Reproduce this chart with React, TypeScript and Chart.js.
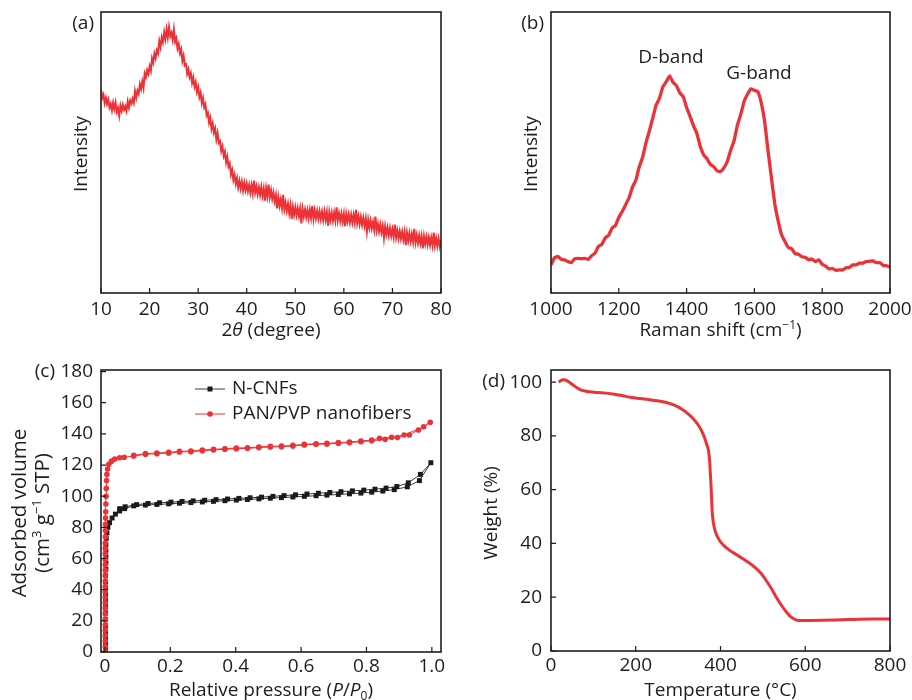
import React, { useEffect, useRef } from "react";
import { Chart, registerables } from "chart.js";
Chart.register(...registerables);

const FONT = "'Open Sans', 'Noto Sans', 'DejaVu Sans', sans-serif";
const INK = "#1d1d1d";
const RED = "#ec3237";
const BLACK = "#1a1a1a";
const FS = 19;

// ---------- (a) XRD ----------
const XRD_START = 10;
const XRD_STEP = 0.25;
const XRD_INTENSITY = [
  72.4, 69.4, 70.6, 67.6, 69.5, 67.3, 68.8, 66.0, 67.3, 65.0, 67.7, 65.5,
  67.8, 64.5, 65.8, 63.1, 66.7, 64.9, 67.0, 65.2, 66.4, 64.8, 68.1, 66.0,
  68.5, 67.4, 69.1, 67.6, 71.8, 69.5, 72.0, 70.9, 74.3, 72.6, 75.3, 73.0,
  78.1, 76.8, 79.3, 78.0, 80.6, 79.0, 83.5, 82.0, 85.2, 83.6, 86.4, 85.3,
  89.6, 87.5, 91.0, 89.3, 92.8, 90.4, 93.9, 91.0, 94.6, 91.4, 92.6, 90.2,
  93.8, 89.4, 90.6, 87.0, 88.6, 85.4, 86.8, 82.6, 84.5, 81.0, 81.4, 78.0,
  79.6, 76.8, 78.2, 74.8, 76.7, 73.4, 75.0, 71.6, 73.2, 69.7, 71.3, 67.6,
  69.4, 66.1, 67.2, 63.2, 64.1, 60.6, 62.3, 58.4, 60.4, 57.1, 58.6, 54.7,
  56.9, 53.4, 54.0, 50.6, 52.2, 48.8, 50.3, 46.5, 48.5, 45.0, 46.1, 42.2,
  43.8, 40.2, 42.0, 38.9, 40.9, 37.6, 39.9, 37.2, 39.6, 36.5, 39.2, 36.6,
  38.9, 36.2, 38.5, 35.7, 38.4, 35.5, 40.0, 35.8, 37.9, 35.1, 37.6, 34.9,
  37.8, 34.6, 37.2, 32.9, 37.3, 34.4, 38.6, 34.1, 36.6, 33.5, 35.8, 32.7,
  34.9, 30.1, 34.1, 31.0, 33.3, 30.2, 34.9, 29.8, 32.1, 29.2, 31.7, 28.4,
  31.2, 26.4, 30.6, 27.8, 30.5, 27.7, 30.2, 27.4, 30.0, 24.8, 29.9, 27.2,
  29.7, 27.0, 29.5, 26.6, 29.6, 26.8, 31.0, 26.3, 29.4, 26.6, 29.2, 26.5,
  29.1, 26.3, 28.9, 26.0, 29.0, 26.1, 28.8, 24.0, 28.7, 26.0, 28.6, 25.7,
  28.6, 25.8, 30.5, 25.9, 28.4, 25.6, 28.3, 25.4, 28.2, 23.8, 28.1, 25.5,
  28.0, 25.2, 27.9, 25.1, 27.8, 25.0, 29.6, 24.9, 27.3, 24.5, 27.1, 24.3,
  26.8, 23.9, 26.5, 22.0, 26.1, 23.2, 25.8, 23.0, 25.3, 22.5, 27.2, 22.3,
  24.6, 21.8, 24.4, 21.6, 23.9, 19.6, 23.7, 20.9, 23.3, 20.5, 23.1, 20.3,
  22.7, 19.9, 24.3, 19.8, 22.2, 19.4, 22.0, 19.3, 21.8, 19.0, 21.7, 17.0,
  21.4, 18.6, 21.3, 18.4, 21.0, 18.2, 22.8, 18.0, 20.6, 17.8, 20.5, 17.7,
  20.3, 15.9, 20.2, 17.5, 20.0, 17.2, 19.9, 17.1, 19.7, 17.0, 21.5, 16.9,
  19.5, 16.7, 19.4, 16.6, 18.8,
];
const XRD_X_TICKS = [10, 20, 30, 40, 50, 60, 70, 80];

// ---------- (b) Raman ----------
const RAMAN_START = 1000;
const RAMAN_STEP = 10;
const RAMAN_INTENSITY = [
  10, 12.5, 13, 12, 11.8, 11.2, 10.8, 12.2, 12.3, 12.2,
  12.3, 12.0, 13.3, 14.2, 16.6, 17.3, 19.6, 20.5, 23.1, 24.0,
  26.9, 29.0, 31.4, 33.8, 37.6, 40.0, 44.8, 48.2, 53.4, 57.6,
  62.2, 66.9, 69.3, 73.4, 75.2, 77.3, 75.0, 73.8, 71.2, 69.9,
  66.0, 62.9, 59.6, 56.9, 52.3, 49.2, 47.8, 45.8, 45.0, 43.4,
  43.2, 44.5, 46.8, 50.8, 54.2, 59.8, 63.7, 68.3, 70.8, 72.7,
  72.1, 71.7, 67.8, 61.2, 50.8, 41.2, 31.8, 25.7, 20.8, 18.3,
  16.2, 15.8, 14.0, 13.8, 12.9, 12.7, 11.8, 12.1, 11.2, 11.8,
  10.2, 9.6, 8.6, 8.7, 8.1, 8.2, 8.2, 9.0, 9.1, 10.0,
  10.0, 10.6, 10.6, 11.2, 11.3, 11.4, 10.8, 10.8, 9.8, 9.7,
  9.2,
];
const RAMAN_X_TICKS = [1000, 1200, 1400, 1600, 1800, 2000];

// ---------- (c) N2 isotherms ----------
const NCNF_P = [
  0.002, 0.002, 0.002, 0.002, 0.002, 0.002, 0.002, 0.002, 0.002, 0.002, 0.002, 0.002, 0.002, 0.002,
  0.003, 0.003, 0.003, 0.003, 0.003, 0.004, 0.006, 0.009, 0.014, 0.022, 0.032, 0.045, 0.06,
  0.088, 0.124, 0.159, 0.195, 0.228, 0.263, 0.298, 0.332, 0.367, 0.402, 0.436, 0.471, 0.506, 0.54,
  0.575, 0.61, 0.646, 0.679, 0.714, 0.748, 0.783, 0.816, 0.85, 0.885, 0.925, 0.962, 0.997,
  0.965, 0.928, 0.893, 0.86, 0.826, 0.792, 0.757, 0.722, 0.688, 0.653, 0.618, 0.583, 0.548, 0.514,
  0.479, 0.444, 0.41, 0.375, 0.34, 0.305, 0.27, 0.236, 0.202, 0.167, 0.132, 0.097, 0.062, 0.045,
];
const NCNF_V = [
  0.5, 3, 6, 9, 13, 17, 21, 25, 29, 33, 37, 41, 45, 49,
  53, 57, 61, 65, 69, 73, 76.5, 80, 83, 86, 88.5, 90.5, 92,
  93.8, 94.3, 94.7, 95.1, 95.5, 95.9, 96.3, 96.7, 97.1, 97.5, 97.9, 98.3, 98.7, 99.1,
  99.5, 99.9, 100.3, 100.7, 101.1, 101.5, 102, 102.6, 103.3, 104.2, 106, 110, 121.5,
  114, 108.6, 106.2, 105.2, 104.5, 103.9, 103.4, 102.9, 102.4, 101.9, 101.4, 100.9, 100.4, 99.9,
  99.4, 99, 98.6, 98.2, 97.8, 97.4, 97, 96.6, 96.2, 95.8, 95.3, 94.6, 93.2, 92,
];
const PAN_P = [
  0.001, 0.001, 0.001, 0.001, 0.001, 0.001, 0.001, 0.001, 0.001, 0.001, 0.001, 0.001, 0.001, 0.001, 0.001, 0.001, 0.001,
  0.0012, 0.0012, 0.0012, 0.0012, 0.0015, 0.0015, 0.0018, 0.002, 0.0025, 0.003, 0.0035, 0.004, 0.005, 0.006, 0.008,
  0.012, 0.02, 0.03, 0.045, 0.059,
  0.088, 0.124, 0.159, 0.195, 0.228, 0.263, 0.298, 0.332, 0.367, 0.402, 0.436, 0.471, 0.506, 0.54,
  0.575, 0.61, 0.646, 0.679, 0.714, 0.748, 0.783, 0.816, 0.857, 0.895, 0.931, 0.959, 0.995,
  0.975, 0.915, 0.877, 0.84, 0.816, 0.783, 0.748, 0.714, 0.679, 0.646, 0.61, 0.575, 0.54, 0.506,
  0.471, 0.436, 0.402, 0.367, 0.332, 0.298, 0.263, 0.228, 0.195, 0.159, 0.124, 0.088,
];
const PAN_V = [
  0.5, 3.5, 7, 10.5, 14, 17.5, 21, 24.5, 28, 31.5, 35, 38.5, 42, 45.5, 49, 52.5, 56,
  59.5, 63, 66.5, 70, 74, 78, 82, 86, 90, 95, 100, 105, 110, 114, 117.5,
  120.5, 122.5, 123.8, 124.6, 125,
  125.8, 126.9, 127.3, 127.7, 128.4, 128.6, 129.2, 129.7, 130.1, 130.5, 130.7, 131.2, 131.6, 131.8,
  132.2, 132.9, 133.3, 133.5, 134, 134.4, 135, 135.6, 136.5, 137.6, 139.3, 142.5, 147.5,
  144.5, 139.3, 137.8, 137.2, 136.0, 135.4, 134.8, 134.4, 133.9, 133.7, 133.3, 132.6, 132.2, 132,
  131.6, 131.1, 130.9, 130.5, 130.1, 129.6, 129, 128.8, 128.1, 127.7, 127.3, 126.2,
];
const BET_X_TICKS = [0, 0.2, 0.4, 0.6, 0.8, 1.0];
const BET_X_LABELS = ["0", "0.2", "0.4", "0.6", "0.8", "1.0"];
const BET_Y_TICKS = [0, 20, 40, 60, 80, 100, 120, 140, 160, 180];
const BET_SERIES = ["N-CNFs", "PAN/PVP nanofibers"];

// ---------- (d) TGA ----------
const TGA_T = [
  18, 22, 28, 34, 40, 47, 55, 62, 70, 80,
  90, 110, 130, 150, 170, 190, 210, 230, 250, 270,
  290, 310, 325, 335, 345, 355, 362, 367, 371, 374,
  376, 377.5, 379, 380.5, 383, 386, 390, 397, 408, 421,
  436, 452, 468, 484, 496, 507, 519, 531, 543, 555,
  566, 578, 590, 602, 640, 700, 760, 800,
];
const TGA_W = [
  100, 100.4, 100.9, 100.8, 100.3, 99.5, 98.6, 97.8, 97.1, 96.7,
  96.4, 96.1, 95.9, 95.5, 94.9, 94.3, 93.9, 93.5, 93.1, 92.5,
  91.5, 89.8, 88.0, 86.5, 84.6, 82.0, 79.5, 77.0, 75.0, 71.5,
  66.0, 62.0, 56.5, 51.5, 48.0, 45.5, 43.5, 41.3, 39.2, 37.5,
  36.0, 34.4, 32.7, 30.7, 28.8, 26.4, 23.5, 20.2, 17.2, 14.6,
  12.7, 11.6, 11.3, 11.3, 11.4, 11.7, 11.9, 11.9,
];
const TGA_X_TICKS = [0, 200, 400, 600, 800];
const TGA_Y_TICKS = [0, 20, 40, 60, 80, 100];

// ---------- helpers ----------
type Part = { t: string; it?: boolean; sup?: boolean; sub?: boolean };

function partFont(p: Part, size: number) {
  const s = p.sup || p.sub ? Math.round(size * 0.65) : size;
  return `${p.it ? "italic " : ""}${s}px ${FONT}`;
}

function drawRich(ctx: CanvasRenderingContext2D, parts: Part[], x: number, y: number, size: number, rotate = false) {
  ctx.save();
  ctx.translate(x, y);
  if (rotate) ctx.rotate(-Math.PI / 2);
  ctx.textBaseline = "middle";
  ctx.textAlign = "left";
  ctx.fillStyle = INK;
  let total = 0;
  for (const p of parts) {
    ctx.font = partFont(p, size);
    total += ctx.measureText(p.t).width;
  }
  let cx = -total / 2;
  for (const p of parts) {
    ctx.font = partFont(p, size);
    const dy = p.sup ? -size * 0.3 : p.sub ? size * 0.3 : 0;
    ctx.fillText(p.t, cx, dy);
    cx += ctx.measureText(p.t).width;
  }
  ctx.restore();
}

function drawText(ctx: CanvasRenderingContext2D, t: string, x: number, y: number, align: CanvasTextAlign, size = FS) {
  ctx.save();
  ctx.font = `${size}px ${FONT}`;
  ctx.fillStyle = INK;
  ctx.textAlign = align;
  ctx.textBaseline = "middle";
  ctx.fillText(t, x, y);
  ctx.restore();
}

function framePlugin(xTicks: number[], yTicks: number[] | null, extra: (ctx: CanvasRenderingContext2D, chart: any) => void) {
  return {
    id: "frame",
    afterDraw(chart: any) {
      const { ctx, chartArea: a } = chart;
      const xs = chart.scales.x;
      const ys = chart.scales.y;
      ctx.save();
      ctx.strokeStyle = INK;
      ctx.lineWidth = 1.2;
      ctx.beginPath();
      for (const v of xTicks) {
        const px = xs.getPixelForValue(v);
        ctx.moveTo(px, a.bottom);
        ctx.lineTo(px, a.bottom - 5);
      }
      if (yTicks) {
        for (const v of yTicks) {
          const py = ys.getPixelForValue(v);
          ctx.moveTo(a.left, py);
          ctx.lineTo(a.left + 5, py);
        }
      }
      ctx.stroke();
      ctx.lineWidth = 1.6;
      ctx.strokeRect(a.left, a.top, a.right - a.left, a.bottom - a.top);
      ctx.restore();
      extra(ctx, chart);
    },
  };
}

interface AxisSpec {
  min: number;
  max: number;
  ticks?: number[];
  labels?: string[];
  pad?: number;
  size: number;
}

function buildConfig(datasets: any[], xs: AxisSpec, ys: AxisSpec, padding: any, plugin: any): any {
  const tickFont = { family: FONT, size: FS };
  return {
    type: "line",
    data: { datasets },
    options: {
      animation: false,
      responsive: false,
      maintainAspectRatio: false,
      devicePixelRatio: 1,
      events: [],
      layout: { padding },
      plugins: { legend: { display: false }, tooltip: { enabled: false }, title: { display: false } },
      scales: {
        x: {
          type: "linear",
          min: xs.min,
          max: xs.max,
          grid: { display: false, drawTicks: false },
          border: { display: false },
          ticks: {
            font: tickFont,
            color: INK,
            padding: xs.pad ?? 0,
            autoSkip: false,
            maxRotation: 0,
            minRotation: 0,
            callback: (v: any, i: number) => (xs.labels ? xs.labels[i] : String(v)),
          },
          afterBuildTicks: (s: any) => {
            s.ticks = (xs.ticks || []).map((v) => ({ value: v }));
          },
          afterFit: (s: any) => {
            s.height = xs.size;
            s.paddingLeft = 0;
            s.paddingRight = 0;
          },
        },
        y: {
          type: "linear",
          min: ys.min,
          max: ys.max,
          grid: { display: false, drawTicks: false },
          border: { display: false },
          ticks: {
            display: !!ys.ticks,
            font: tickFont,
            color: INK,
            padding: ys.pad ?? 0,
            autoSkip: false,
            callback: (v: any) => String(v),
          },
          afterBuildTicks: (s: any) => {
            if (ys.ticks) s.ticks = ys.ticks.map((v) => ({ value: v }));
          },
          afterFit: (s: any) => {
            s.width = ys.size;
            s.paddingTop = 0;
            s.paddingBottom = 0;
          },
        },
      },
    },
    plugins: [plugin],
  };
}

function configA() {
  const data = XRD_INTENSITY.map((v, i) => ({ x: XRD_START + i * XRD_STEP, y: v }));
  return buildConfig(
    [{ data, borderColor: RED, borderWidth: 2, pointRadius: 0, tension: 0 }],
    { min: 10, max: 80, ticks: XRD_X_TICKS, pad: 5, size: 57 },
    { min: 0, max: 100, size: 101 },
    { left: 0, top: 12, right: 15, bottom: 0 },
    framePlugin(XRD_X_TICKS, null, (ctx) => {
      drawText(ctx, "(a)", 94, 23.5, "right");
      drawRich(ctx, [{ t: "Intensity" }], 82, 154, FS, true);
      drawRich(ctx, [{ t: "2" }, { t: "θ", it: true }, { t: " (degree)" }], 271, 331, FS);
    })
  );
}

function configB() {
  const data = RAMAN_INTENSITY.map((v, i) => ({ x: RAMAN_START + i * RAMAN_STEP, y: v }));
  return buildConfig(
    [{ data, borderColor: RED, borderWidth: 3.3, pointRadius: 0, tension: 0.1, borderJoinStyle: "round" }],
    { min: 1000, max: 2000, ticks: RAMAN_X_TICKS, pad: 5, size: 57 },
    { min: 0, max: 100, size: 95 },
    { left: 0, top: 12, right: 22, bottom: 0 },
    framePlugin(RAMAN_X_TICKS, null, (ctx) => {
      drawText(ctx, "(b)", 88, 23.5, "right");
      drawRich(ctx, [{ t: "Intensity" }], 76, 154, FS, true);
      drawRich(ctx, [{ t: "Raman shift (cm" }, { t: "−1", sup: true }, { t: ")" }], 264.5, 331, FS);
      drawText(ctx, "D-band", 215, 57.5, "center");
      drawText(ctx, "G-band", 303, 74, "center");
    })
  );
}

function configC() {
  const black = NCNF_P.map((p, i) => ({ x: p, y: NCNF_V[i] }));
  const red = PAN_P.map((p, i) => ({ x: p, y: PAN_V[i] }));
  return buildConfig(
    [
      {
        label: BET_SERIES[1],
        data: red,
        borderColor: RED,
        backgroundColor: RED,
        borderWidth: 1,
        pointRadius: 2.8,
        pointBorderWidth: 0,
        pointBackgroundColor: RED,
        pointStyle: "circle",
        tension: 0,
        order: 0,
      },
      {
        label: BET_SERIES[0],
        data: black,
        borderColor: "#3a3a3a",
        backgroundColor: BLACK,
        borderWidth: 1,
        pointRadius: 3.5,
        pointBorderWidth: 0,
        pointBackgroundColor: BLACK,
        pointStyle: "rect",
        tension: 0,
        order: 1,
      },
    ],
    { min: -0.012, max: 1.028, ticks: BET_X_TICKS, labels: BET_X_LABELS, pad: 3, size: 48 },
    { min: 0, max: 181, ticks: BET_Y_TICKS, pad: 8, size: 101 },
    { left: 0, top: 20, right: 15, bottom: 0 },
    framePlugin(BET_X_TICKS, BET_Y_TICKS, (ctx) => {
      drawText(ctx, "(c)", 55, 21.5, "right");
      drawRich(ctx, [{ t: "Adsorbed volume" }], 20.5, 163, 20.5, true);
      drawRich(
        ctx,
        [{ t: "(cm" }, { t: "3", sup: true }, { t: " g" }, { t: "−1", sup: true }, { t: " STP)" }],
        43,
        163,
        20.5,
        true
      );
      drawRich(
        ctx,
        [{ t: "Relative pressure (" }, { t: "P", it: true }, { t: "/" }, { t: "P", it: true }, { t: "0", sub: true }, { t: ")" }],
        271,
        341,
        FS
      );
      // legend
      const rows = [
        { y: 39, color: "#3a3a3a", fill: BLACK, rect: true, text: BET_SERIES[0] },
        { y: 64, color: RED, fill: RED, rect: false, text: BET_SERIES[1] },
      ];
      for (const r of rows) {
        ctx.save();
        ctx.strokeStyle = r.color;
        ctx.lineWidth = 1;
        ctx.beginPath();
        ctx.moveTo(195, r.y);
        ctx.lineTo(225, r.y);
        ctx.stroke();
        ctx.fillStyle = r.fill;
        if (r.rect) {
          ctx.fillRect(210 - 2.5, r.y - 2.5, 5, 5);
        } else {
          ctx.beginPath();
          ctx.arc(210, r.y, 2.8, 0, Math.PI * 2);
          ctx.fill();
        }
        ctx.restore();
        drawText(ctx, r.text, 232, r.y, "left");
      }
    })
  );
}

function configD() {
  const data = TGA_T.map((t, i) => ({ x: t, y: TGA_W[i] }));
  return buildConfig(
    [{ data, borderColor: RED, borderWidth: 3, pointRadius: 0, cubicInterpolationMode: "monotone", borderJoinStyle: "round" }],
    { min: 0, max: 800, ticks: TGA_X_TICKS, pad: 3, size: 49 },
    { min: 0, max: 104.5, ticks: TGA_Y_TICKS, pad: 9, size: 95 },
    { left: 0, top: 20, right: 22, bottom: 0 },
    framePlugin(TGA_X_TICKS, TGA_Y_TICKS, (ctx) => {
      drawText(ctx, "(d)", 49, 31.5, "right");
      drawRich(ctx, [{ t: "Weight (%)" }], 35.5, 163, FS, true);
      drawRich(ctx, [{ t: "Temperature (°C)" }], 264.5, 341, FS);
    })
  );
}

function Panel({ left, top, build }: { left: number; top: number; build: () => any }) {
  const ref = useRef<HTMLCanvasElement>(null);
  useEffect(() => {
    const chart = new Chart(ref.current as HTMLCanvasElement, build());
    return () => chart.destroy();
  }, []);
  return (
    <canvas
      ref={ref}
      width={456}
      height={350}
      style={{ position: "absolute", left, top, width: 456, height: 350 }}
    />
  );
}

export default function App() {
  return (
    <div style={{ position: "absolute", left: 0, top: 0, width: 912, height: 700, background: "#ffffff", overflow: "hidden" }}>
      <Panel left={0} top={0} build={configA} />
      <Panel left={456} top={0} build={configB} />
      <Panel left={0} top={350} build={configC} />
      <Panel left={456} top={350} build={configD} />
    </div>
  );
}
